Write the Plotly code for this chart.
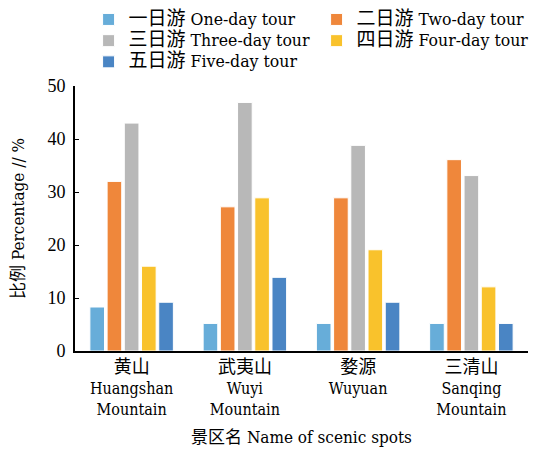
import plotly.graph_objects as go

categories_cn = ["黄山", "武夷山", "婺源", "三清山"]
categories_en = ["Huangshan<br>Mountain", "Wuyi<br>Mountain", "Wuyuan", "Sanqing<br>Mountain"]
series_cn = ["一日游", "二日游", "三日游", "四日游", "五日游"]
series_en = ["One-day tour", "Two-day tour", "Three-day tour", "Four-day tour", "Five-day tour"]
one_day = [8.3, 5.2, 5.2, 5.2]
two_day = [32.0, 27.2, 28.9, 36.1]
three_day = [43.0, 46.9, 38.8, 33.1]
four_day = [16.0, 28.9, 19.1, 12.1]
five_day = [9.2, 13.9, 9.2, 5.2]
values = [one_day, two_day, three_day, four_day, five_day]
colors = ["#67ADD9", "#EF873B", "#B8B8B8", "#F9C22C", "#4A85C4"]
y_ticks = [0, 10, 20, 30, 40, 50]

FONT = "DejaVu Serif Condensed, Liberation Serif, Noto Sans CJK SC"
NUMFONT = "Liberation Serif, Noto Sans CJK SC"

categories = [f"<span style='font-size:18px'>{c}</span><br>{e}" for c, e in zip(categories_cn, categories_en)]
series_names = [f"<span style='font-size:19px'>{c}</span><span style='font-size:17.5px'> {e}</span>"
                for c, e in zip(series_cn, series_en)]

fig = go.Figure()
for name, vals, col in zip(series_names, values, colors):
    fig.add_trace(go.Bar(x=categories, y=vals, name=name,
                         marker=dict(color=col, line=dict(color="white", width=1))))

# page body has an 8px margin, so the figure is drawn 8px right/down
fig.update_layout(
    width=535, height=442,
    barmode="group", bargap=0.24, bargroupgap=0.15,
    paper_bgcolor="white", plot_bgcolor="white",
    margin=dict(l=67, r=15, t=78, b=99, autoexpand=False),
    font=dict(family=FONT, size=16, color="black"),
    legend=dict(orientation="h", x=0.03, y=1.31, xanchor="left", yanchor="top",
                entrywidth=183, entrywidthmode="pixels",
                font=dict(family=FONT, size=14), traceorder="normal",
                bgcolor="rgba(0,0,0,0)"),
    xaxis=dict(showline=True, linecolor="black", linewidth=2, ticks="", automargin=False,
               tickfont=dict(family=FONT, size=16), ticklabelstandoff=1,
               title=dict(text="景区名 Name of scenic spots", font=dict(family=FONT, size=17), standoff=13)),
    yaxis=dict(range=[0, 50], tickvals=y_ticks, showline=True, linecolor="black", linewidth=2,
               ticks="inside", ticklen=4, tickcolor="black", showgrid=False, zeroline=False,
               automargin=False, ticklabelstandoff=4,
               tickfont=dict(family=NUMFONT, size=18),
               title=dict(text="比例 Percentage // %", font=dict(family=FONT, size=17), standoff=24)),
)

fig.write_html("out.html")
